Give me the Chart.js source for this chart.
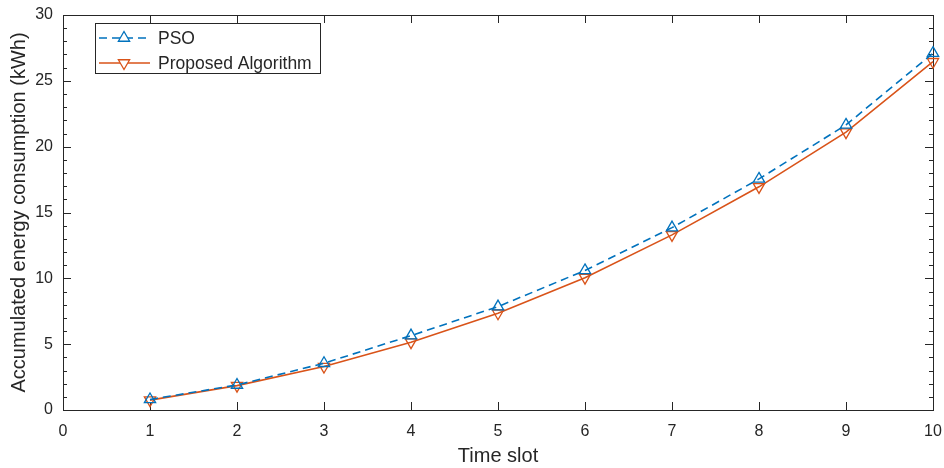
<!DOCTYPE html>
<html>
<head>
<meta charset="utf-8">
<script src="https://cdn.jsdelivr.net/npm/chart.js@4"></script>
<style>
  html, body { margin: 0; padding: 0; background: #fff; }
  #wrap { width: 944px; height: 468px; }
</style>
</head>
<body>
<div id="wrap"><canvas id="energy-chart" width="944" height="468"></canvas></div>
<script>
// data
const timeSlots   = [1, 2, 3, 4, 5, 6, 7, 8, 9, 10];
const psoValues   = [0.8, 1.9, 3.55, 5.65, 7.85, 10.6, 13.85, 17.55, 21.65, 27.1];
const propValues  = [0.75, 1.85, 3.3, 5.15, 7.35, 10.05, 13.3, 16.95, 21.1, 26.45];
const seriesNames = ["PSO", "Proposed Algorithm"];
const xTitle = "Time slot";
const yTitle = "Accumulated energy consumption (kWh)";

const FONT = "'Liberation Sans', Arial, Helvetica, sans-serif";
const AXIS = "#262626";
const BLUE = "#0072BD";
const ORANGE = "#D95319";

const toPoints = vals => timeSlots.map((t, i) => ({ x: t, y: vals[i] }));

// matlab style box, inward ticks, axis titles
const axesBox = {
    id: 'axesBox',
    beforeDatasetsDraw(chart) {
        const { ctx, chartArea: a, scales: { x, y } } = chart;
        ctx.save();
        ctx.strokeStyle = AXIS;
        ctx.lineWidth = 1;
        ctx.beginPath();
        for (let v = 0; v <= 10; v++) {
            const px = Math.round(x.getPixelForValue(v)) + 0.5;
            ctx.moveTo(px, a.bottom); ctx.lineTo(px, a.bottom - 8);
            ctx.moveTo(px, a.top); ctx.lineTo(px, a.top + 8);
        }
        for (let v = 0; v <= 30; v++) {
            const py = Math.round(y.getPixelForValue(v)) + 0.5;
            const len = v % 5 === 0 ? 8 : 4;
            ctx.moveTo(a.left, py); ctx.lineTo(a.left + len, py);
            ctx.moveTo(a.right, py); ctx.lineTo(a.right - len, py);
        }
        ctx.stroke();
        ctx.strokeRect(Math.round(a.left) + 0.5, Math.round(a.top) + 0.5,
            Math.round(a.right - a.left), Math.round(a.bottom - a.top));

        ctx.fillStyle = AXIS;
        ctx.font = "20px " + FONT;
        ctx.textAlign = "center";
        ctx.textBaseline = "middle";
        ctx.fillText(xTitle, (a.left + a.right) / 2, 456);
        ctx.translate(19, (a.top + a.bottom) / 2);
        ctx.rotate(-Math.PI / 2);
        ctx.fillText(yTitle, 0, 0);
        ctx.restore();
    },
    afterDraw(chart) {
        const { ctx } = chart;
        const box = { l: 95.5, t: 23.5, r: 320.5, b: 73.5 };
        ctx.save();
        ctx.fillStyle = "#fff";
        ctx.fillRect(box.l, box.t, box.r - box.l, box.b - box.t);
        ctx.strokeStyle = AXIS;
        ctx.lineWidth = 1;
        ctx.strokeRect(box.l, box.t, box.r - box.l, box.b - box.t);
        const rows = [38, 63];
        chart.data.datasets.forEach((ds, i) => {
            const yy = rows[i];
            ctx.strokeStyle = ds.borderColor;
            ctx.lineWidth = ds.borderWidth;
            ctx.setLineDash(ds.borderDash || []);
            ctx.beginPath();
            ctx.moveTo(99, yy); ctx.lineTo(150, yy);
            ctx.stroke();
            ctx.setLineDash([]);
            ctx.fillStyle = "#fff";
            ctx.lineWidth = ds.pointBorderWidth;
            Chart.helpers.drawPoint(ctx, {
                pointStyle: ds.pointStyle,
                rotation: ds.pointRotation || 0,
                radius: ds.pointRadius,
                borderWidth: ds.pointBorderWidth
            }, 124, yy);
            ctx.fillStyle = AXIS;
            ctx.font = "17.5px " + FONT;
            ctx.textAlign = "left";
            ctx.textBaseline = "middle";
            ctx.fillText(ds.label, 158, yy + 1);
        });
        ctx.restore();
    }
};

const ctx = document.getElementById('energy-chart').getContext('2d');
new Chart(ctx, {
    type: 'line',
    data: {
        datasets: [
            {
                label: seriesNames[0],
                data: toPoints(psoValues),
                borderColor: BLUE,
                backgroundColor: 'rgba(0,0,0,0)',
                borderWidth: 1.6,
                borderDash: [8, 5],
                pointStyle: 'triangle',
                pointRadius: 6.5,
                pointBorderWidth: 1.3,
                pointBorderColor: BLUE,
                pointBackgroundColor: 'rgba(0,0,0,0)',
                clip: false
            },
            {
                label: seriesNames[1],
                data: toPoints(propValues),
                borderColor: ORANGE,
                backgroundColor: 'rgba(0,0,0,0)',
                borderWidth: 1.6,
                pointStyle: 'triangle',
                pointRotation: 180,
                pointRadius: 6.5,
                pointBorderWidth: 1.3,
                pointBorderColor: ORANGE,
                pointBackgroundColor: 'rgba(0,0,0,0)',
                clip: false
            }
        ]
    },
    options: {
        responsive: false,
        animation: false,
        layout: { padding: { top: 15, right: 11, left: 0, bottom: 0 } },
        plugins: { legend: { display: false }, tooltip: { enabled: false } },
        scales: {
            x: {
                type: 'linear',
                min: 0, max: 10,
                grid: { display: false, drawTicks: false },
                border: { display: false },
                ticks: { stepSize: 1, padding: 12, color: AXIS, font: { size: 16, family: FONT } },
                afterFit: s => { s.height = 58; s.paddingLeft = 0; s.paddingRight = 0; }
            },
            y: {
                min: 0, max: 30,
                grid: { display: false, drawTicks: false },
                border: { display: false },
                ticks: { stepSize: 5, padding: 10, color: AXIS, font: { size: 16, family: FONT } },
                afterFit: s => { s.width = 63; s.paddingTop = 0; s.paddingBottom = 0; }
            }
        }
    },
    plugins: [axesBox]
});
</script>
</body>
</html>
